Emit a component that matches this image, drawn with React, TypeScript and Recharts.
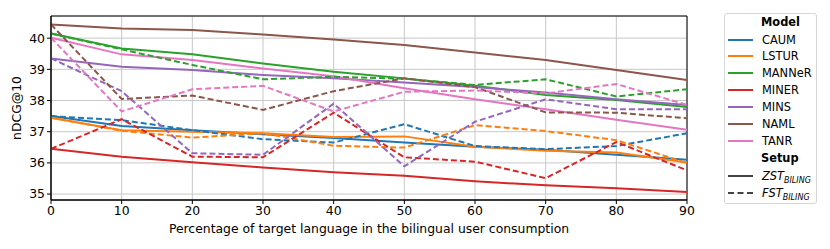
import {
  LineChart,
  Line,
  XAxis,
  YAxis,
  CartesianGrid,
  ReferenceArea,
} from 'recharts'

// x = percentage of target language in bilingual consumption
const pct = [0, 10, 20, 30, 40, 50, 60, 70, 80, 90]

const models = ['CAUM', 'LSTUR', 'MANNeR', 'MINER', 'MINS', 'NAML', 'TANR']
const colors = ['#1f77b4', '#ff7f0e', '#2ca02c', '#d62728', '#9467bd', '#8c564b', '#e377c2']

// ZST_BILING (solid)
const caumZst = [37.5, 37.18, 37.05, 36.92, 36.8, 36.65, 36.52, 36.42, 36.26, 36.1]
const lsturZst = [37.45, 37.05, 37.0, 36.95, 36.83, 36.85, 36.52, 36.39, 36.33, 36.01]
const mannerZst = [40.15, 39.67, 39.48, 39.19, 38.92, 38.71, 38.47, 38.18, 38.02, 37.79]
const minerZst = [36.45, 36.2, 36.02, 35.85, 35.7, 35.59, 35.41, 35.28, 35.19, 35.07]
const minsZst = [39.35, 39.08, 38.98, 38.82, 38.71, 38.58, 38.43, 38.26, 38.04, 37.86]
const namlZst = [40.44, 40.31, 40.26, 40.12, 39.96, 39.78, 39.54, 39.3, 38.98, 38.66]
const tanrZst = [40.01, 39.48, 39.3, 39.03, 38.78, 38.39, 38.04, 37.72, 37.38, 37.06]

// FST_BILING (dashed)
const caumFst = [37.5, 37.37, 37.05, 36.76, 36.65, 37.24, 36.54, 36.44, 36.54, 36.95]
const lsturFst = [37.45, 37.03, 36.81, 36.95, 36.55, 36.49, 37.21, 37.02, 36.73, 35.99]
const mannerFst = [40.15, 39.64, 39.14, 38.68, 38.76, 38.7, 38.5, 38.68, 38.13, 38.36]
const minerFst = [36.45, 37.4, 36.2, 36.18, 37.61, 36.18, 36.04, 35.51, 36.67, 35.76]
const minsFst = [39.35, 38.3, 36.31, 36.26, 37.9, 35.89, 37.32, 38.04, 37.72, 37.72]
const namlFst = [40.44, 38.05, 38.16, 37.7, 38.3, 38.71, 38.43, 37.62, 37.61, 37.43]
const tanrFst = [40.01, 37.65, 38.36, 38.47, 37.65, 38.28, 38.32, 38.23, 38.53, 37.86]

const zst = [caumZst, lsturZst, mannerZst, minerZst, minsZst, namlZst, tanrZst]
const fst = [caumFst, lsturFst, mannerFst, minerFst, minsFst, namlFst, tanrFst]

const xTicks = [0, 10, 20, 30, 40, 50, 60, 70, 80, 90]
const yTicks = [35, 36, 37, 38, 39, 40]
const yMin = 34.81
const yMax = 40.71

const chartData = pct.map((x, i) => {
  const row: Record<string, number> = { x }
  models.forEach((m, k) => {
    row[`${m}_z`] = zst[k][i]
    row[`${m}_f`] = fst[k][i]
  })
  return row
})

const font = '"DejaVu Sans", sans-serif'

const LegendBox = () => (
  <div
    style={{
      position: 'absolute',
      left: 724,
      top: 13,
      width: 93,
      height: 191,
      border: '1px solid #d6d6d6',
      borderRadius: 3,
      background: '#fff',
      fontFamily: font,
      fontSize: 11.4,
      lineHeight: '14px',
      color: '#000',
      boxSizing: 'border-box',
    }}
  >
    <div style={{ position: 'absolute', left: 36, top: 1, fontWeight: 'bold' }}>Model</div>
    {models.map((m, k) => (
      <div key={m} style={{ position: 'absolute', left: 0, top: 18.5 + k * 16.9, height: 14, width: 90 }}>
        <div style={{ position: 'absolute', left: 3, top: 6, width: 25, height: 0, borderTop: `2px solid ${colors[k]}` }} />
        <div style={{ position: 'absolute', left: 37, top: 0 }}>{m}</div>
      </div>
    ))}
    <div style={{ position: 'absolute', left: 36, top: 137, fontWeight: 'bold' }}>Setup</div>
    <div style={{ position: 'absolute', left: 0, top: 155, height: 14, width: 90 }}>
      <div style={{ position: 'absolute', left: 3, top: 6, width: 25, height: 0, borderTop: '2px solid #444' }} />
      <div style={{ position: 'absolute', left: 37, top: 0, fontStyle: 'italic' }}>
        ZST<sub style={{ fontSize: 8, verticalAlign: '-3px' }}>BILING</sub>
      </div>
    </div>
    <div style={{ position: 'absolute', left: 0, top: 172, height: 14, width: 90 }}>
      <div style={{ position: 'absolute', left: 3, top: 6, width: 25, height: 0, borderTop: '2px dashed #444' }} />
      <div style={{ position: 'absolute', left: 37, top: 0, fontStyle: 'italic' }}>
        FST<sub style={{ fontSize: 8, verticalAlign: '-3px' }}>BILING</sub>
      </div>
    </div>
  </div>
)

export default function App() {
  const tick = { fill: '#000', fontSize: 12.4, fontFamily: font }
  return (
    <div style={{ position: 'absolute', left: 0, top: 0, width: 830, height: 249, background: '#fff' }}>
      <LineChart width={830} height={249} data={chartData} margin={{ top: 16, right: 143, bottom: 0, left: 0 }}>
        <CartesianGrid stroke="#c8c8c8" strokeWidth={1} />
        <XAxis
          dataKey="x"
          type="number"
          domain={[0, 90]}
          ticks={xTicks}
          height={49}
          tick={tick}
          tickLine={{ stroke: '#000' }}
          tickSize={4}
          axisLine={{ stroke: '#000' }}
          label={{
            value: 'Percentage of target language in the bilingual user consumption',
            position: 'insideBottom',
            offset: 16,
            style: { fill: '#000', fontSize: 12.4, fontFamily: font },
          }}
        />
        <YAxis
          type="number"
          domain={[yMin, yMax]}
          ticks={yTicks}
          width={51}
          tick={tick}
          tickLine={{ stroke: '#000' }}
          tickSize={4}
          axisLine={{ stroke: '#000' }}
          allowDataOverflow
          label={{
            value: 'nDCG@10',
            angle: -90,
            position: 'insideLeft',
            offset: 17,
            style: { fill: '#000', fontSize: 12.4, fontFamily: font, textAnchor: 'middle' },
          }}
        />
        {models.map((m, k) => (
          <Line
            key={`${m}_z`}
            dataKey={`${m}_z`}
            stroke={colors[k]}
            strokeWidth={2}
            dot={false}
            type="linear"
            isAnimationActive={false}
          />
        ))}
        {models.map((m, k) => (
          <Line
            key={`${m}_f`}
            dataKey={`${m}_f`}
            stroke={colors[k]}
            strokeWidth={2}
            strokeDasharray="6 3"
            dot={false}
            type="linear"
            isAnimationActive={false}
          />
        ))}
        <ReferenceArea x1={0} x2={90} y1={yMin} y2={yMax} fill="none" stroke="#000" strokeWidth={1} ifOverflow="visible" />
      </LineChart>
      <LegendBox />
    </div>
  )
}
